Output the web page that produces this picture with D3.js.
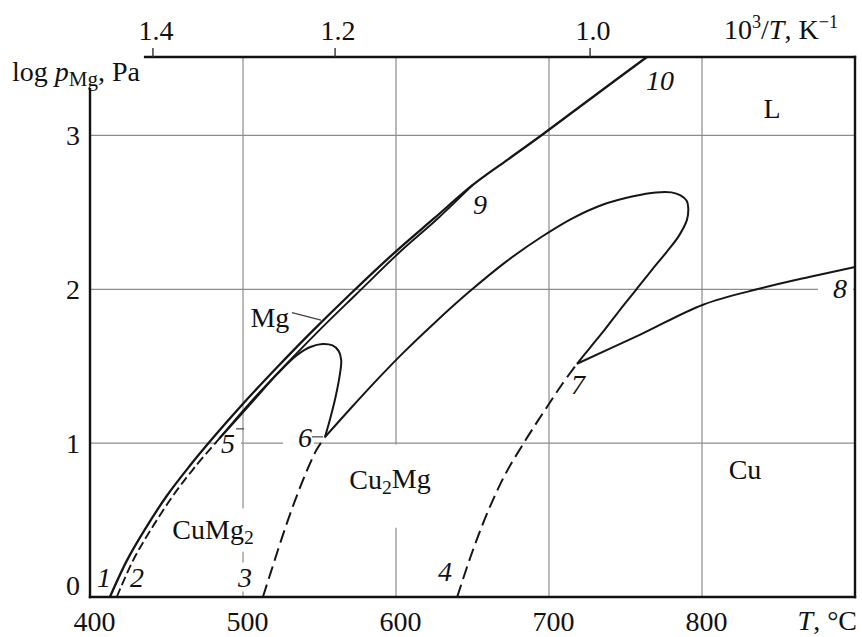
<!DOCTYPE html>
<html>
<head>
<meta charset="utf-8">
<script src="https://d3js.org/d3.v7.min.js"></script>
<style>
  body { margin: 0; background: #fff; }
  text { font-family: "Liberation Serif", "Times New Roman", serif; fill: #111; }
</style>
</head>
<body>
<svg width="862" height="637"></svg>
<script>
 // ticks and grid
 var tempTicks = [400, 500, 600, 700, 800];
 var logTicks = [0, 1, 2, 3];
 var invTicks = [1.4, 1.2, 1.0];
 var tempGrid = [500, 600, 700, 800];
 var logGrid = [1, 2, 3];

 // curves as [T (°C), log p]
 var mgCurve = [[413,0],[424,0.235],[435,0.425],[450,0.655],[465,0.85],[480,1.03],[500,1.256],[522,1.49],
                [545,1.725],[570,1.968],[600,2.247],[625,2.462],[650,2.677],[673,2.843],[696,3.008],
                [730,3.26],[764,3.51]];
 var curve2 = [[417.5,0],[428,0.235],[439,0.425],[454,0.655],[469,0.85],[484.5,1.03]];
 var curve5to9 = [[484.5,1.03],[504,1.256],[526,1.49],[549,1.725],[574,1.968],[603,2.247],
                  [627.5,2.462],[650,2.677]];
 var loopCuMg2 = [[484.5,1.03],[504.5,1.25],[522.5,1.45],[535,1.57],[544,1.625],[552,1.645],[558.5,1.635],
                  [562.5,1.6],[564.2,1.54],[563.2,1.44],[560.5,1.3],[557,1.16],[553.6,1.04]];
 var curve3 = [[513,0],[518,0.155],[523,0.31],[528,0.46],[533,0.6],[538,0.73],[543,0.85],[548,0.955],[553.6,1.04]];
 var loopCu2Mg = [[553.6,1.04],[570,1.222],[588,1.416],[605,1.59],[625,1.78],[648,1.985],[672,2.18],
                  [695,2.34],[715,2.46],[735,2.55],[755,2.605],[770,2.63],[780,2.63],[786,2.61],
                  [790,2.575],[791,2.53],[790.2,2.453],[785,2.349],[777.1,2.245],[767.3,2.127],
                  [756.9,1.997],[746.4,1.867],[735.9,1.731],[726.8,1.62],[718.3,1.516]];
 var curve4 = [[640,0],[648.5,0.255],[659,0.53],[671,0.79],[685,1.025],[697,1.21],[708,1.375],[718.3,1.516]];
 var curve7to8 = [[718.3,1.516],[760,1.707],[800.7,1.9],[838,2.005],[870,2.08],[900,2.145]];

 var svg = d3.select("svg");
 var x = d3.scaleLinear().domain([400, 900]).range([90, 855]);
 var y = d3.scaleLinear().domain([0, 3.51]).range([597, 57]);
 function xInv(v) { return x(1000 / v - 273.15); }

 // grid lines
 svg.append("g").selectAll("line").data(tempGrid).join("line")
    .attr("x1", d => x(d)).attr("x2", d => x(d))
    .attr("y1", y(0)).attr("y2", y(3.51))
    .attr("stroke", "#8c8c8c").attr("stroke-width", 1.2);
 svg.append("g").selectAll("line").data(logGrid).join("line")
    .attr("x1", x(400)).attr("x2", x(900))
    .attr("y1", d => y(d)).attr("y2", d => y(d))
    .attr("stroke", "#8c8c8c").attr("stroke-width", 1.2);

 // label annotations (white patches behind)
 var labels = [
   {t: "1", T: 409.2, L: 0.124, it: true},
   {t: "2", T: 430.7, L: 0.13, it: true},
   {t: "3", T: 501.3, L: 0.13, it: true},
   {t: "4", T: 632, L: 0.169, it: true},
   {t: "5", T: 490.2, L: 0.995, it: true, pad: [4, 6, 4, 4]},
   {t: "6", T: 540.5, L: 1.034, it: true, pad: [15, 2, 4, 4]},
   {t: "7", T: 719, L: 1.379, it: true},
   {t: "8", T: 890.2, L: 2.004, it: true, pad: [15, 6, 4, 4]},
   {t: "9", T: 654.9, L: 2.55, it: true},
   {t: "10", T: 772.5, L: 3.357, it: true},
   {t: "L", T: 845.8, L: 3.175},
   {t: "Cu", T: 828.1, L: 0.826},
   {t: "Mg", T: 517.6, L: 1.815},
   {t: "Cu2Mg", T: 596.1, L: 0.761, pad: [6, 6, 22, 34]},
   {t: "CuMg2", T: 480.4, L: 0.436, pad: [4, 4, 10, 8]}
 ];

 var boxG = svg.append("g");
 var curveG = svg.append("g");
 var textG = svg.append("g");

 function writeLabel(sel, t) {
   if (t === "Cu2Mg") {
     sel.append("tspan").text("Cu");
     sel.append("tspan").text("2").attr("font-size", "0.7em").attr("dy", "0.22em");
     sel.append("tspan").text("Mg").attr("dy", "-0.22em");
   } else if (t === "CuMg2") {
     sel.append("tspan").text("CuMg");
     sel.append("tspan").text("2").attr("font-size", "0.7em").attr("dy", "0.22em");
   } else {
     sel.text(t);
   }
 }

 labels.forEach(function (d) {
   var txt = textG.append("text")
      .attr("x", x(d.T)).attr("y", y(d.L) + 9.5)
      .attr("text-anchor", "middle")
      .attr("font-size", 28)
      .attr("font-style", d.it ? "italic" : "normal");
   writeLabel(txt, d.t);
   var b = txt.node().getBBox();
   var p = d.pad || [3, 3, 3, 3];
   boxG.append("rect")
      .attr("x", b.x - p[0]).attr("y", b.y + 4 - p[2])
      .attr("width", b.width + p[0] + p[1]).attr("height", b.height - 8 + p[2] + p[3])
      .attr("fill", "#fff");
 });

 // curves
 var line = d3.line().x(d => x(d[0])).y(d => y(d[1])).curve(d3.curveCatmullRom.alpha(0.5));
 var curves = [
   {d: mgCurve, w: 2.3},
   {d: curve2, w: 1.9, dash: "9,4"},
   {d: curve5to9, w: 1.9},
   {d: loopCuMg2, w: 2},
   {d: curve3, w: 2, dash: "13,6"},
   {d: loopCu2Mg, w: 2},
   {d: curve4, w: 2, dash: "13,6"},
   {d: curve7to8, w: 2}
 ];
 curveG.selectAll("path").data(curves).join("path")
    .attr("d", c => line(c.d))
    .attr("fill", "none")
    .attr("stroke", "#161616")
    .attr("stroke-width", c => c.w)
    .attr("stroke-dasharray", c => c.dash || null);

 // little leader marks
 var leaders = [[[532, 1.848], [551, 1.80]], [[495.4, 1.093], [500.7, 1.093]], [[545.1, 1.041], [552.3, 1.041]]];
 curveG.selectAll("line.lead").data(leaders).join("line")
    .attr("class", "lead")
    .attr("x1", d => x(d[0][0])).attr("y1", d => y(d[0][1]))
    .attr("x2", d => x(d[1][0])).attr("y2", d => y(d[1][1]))
    .attr("stroke", "#444").attr("stroke-width", 1.2);

 // frame
 var frame = [[[400, 3.3], [400, 0]], [[400, 0], [900, 0]], [[900, 0], [900, 3.51]], [[436, 3.51], [900, 3.51]]];
 svg.append("g").selectAll("line").data(frame).join("line")
    .attr("x1", d => x(d[0][0])).attr("y1", d => y(d[0][1]))
    .attr("x2", d => x(d[1][0])).attr("y2", d => y(d[1][1]))
    .attr("stroke", "#111").attr("stroke-width", 2.4).attr("stroke-linecap", "square");

 // bottom axis
 var ax = svg.append("g").attr("transform", "translate(0," + y(0) + ")")
    .call(d3.axisBottom(x).tickValues(tempTicks).tickSize(0).tickPadding(14).tickFormat(d3.format("d")));
 ax.select(".domain").remove();
 ax.selectAll("text").attr("font-size", 28).attr("dx", 4);

 // left axis
 var ay = svg.append("g").attr("transform", "translate(" + x(400) + ",0)")
    .call(d3.axisLeft(y).tickValues(logTicks).tickSize(0).tickPadding(10).tickFormat(d3.format("d")));
 ay.select(".domain").remove();
 ay.selectAll("text").attr("font-size", 28).attr("dy", d => d === 0 ? "-0.1em" : "0.32em");

 // top axis (10^3/T)
 svg.append("g").selectAll("line").data(invTicks).join("line")
    .attr("x1", d => xInv(d)).attr("x2", d => xInv(d))
    .attr("y1", y(3.51)).attr("y2", y(3.51) - 9)
    .attr("stroke", "#333").attr("stroke-width", 1.4);
 svg.append("g").selectAll("text").data(invTicks).join("text")
    .attr("x", d => xInv(d) + 3).attr("y", 40)
    .attr("text-anchor", "middle").attr("font-size", 28)
    .text(d => d3.format(".1f")(d));

 // axis titles
 var ty = svg.append("text").attr("x", 12).attr("y", 81).attr("font-size", 28);
 ty.append("tspan").text("log ");
 ty.append("tspan").text("p").attr("font-style", "italic");
 ty.append("tspan").text("Mg").attr("font-size", "0.75em").attr("dy", "0.22em");
 ty.append("tspan").text(", Pa").attr("dy", "-0.16em");

 var tx = svg.append("text").attr("x", 857).attr("y", 630).attr("font-size", 28).attr("text-anchor", "end");
 tx.append("tspan").text("T").attr("font-style", "italic");
 tx.append("tspan").text(", °C");

 var tt = svg.append("text").attr("x", 838).attr("y", 39).attr("font-size", 28).attr("text-anchor", "end");
 tt.append("tspan").text("10");
 tt.append("tspan").text("3").attr("font-size", "0.65em").attr("dy", "-0.6em");
 tt.append("tspan").text("/").attr("dy", "0.39em");
 tt.append("tspan").text("T").attr("font-style", "italic");
 tt.append("tspan").text(", K");
 tt.append("tspan").text("\u22121").attr("font-size", "0.65em").attr("dy", "-0.6em");
</script>
</body>
</html>
